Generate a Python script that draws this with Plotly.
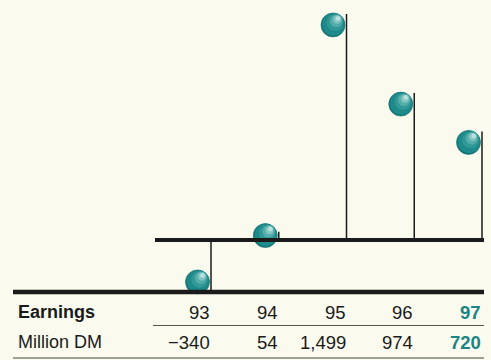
import plotly.graph_objects as go

years = ["93", "94", "95", "96", "97"]
earnings = [-340, 54, 1499, 974, 720]
value_labels = ["\u2212340", "54", "1,499", "974", "720"]
highlight_index = 4

W, H = 491, 360
# axis scaling (px per unit)
X0_PX, X_STEP_PX = 211, 67.75
Y0_PX, Y_UNIT_PX = 240, 0.1508
xr = [-X0_PX / X_STEP_PX, (W - X0_PX) / X_STEP_PX]
ymax = Y0_PX / Y_UNIT_PX
yr = [ymax - H / Y_UNIT_PX, ymax]
px_x = 1 / X_STEP_PX
px_y = 1 / Y_UNIT_PX

TEAL = "#1b8584"
INK = "#1a1a1a"
FONT = "Liberation Sans, Arial, Helvetica, sans-serif"

fig = go.Figure()

xs = list(range(len(years)))

# stems
sx, sy = [], []
for i, v in zip(xs, earnings):
    sx += [i, i, None]
    sy += [0, v, None]
fig.add_trace(go.Scatter(x=sx, y=sy, mode="lines",
                         line=dict(color=INK, width=1.5),
                         hoverinfo="skip", showlegend=False))

# sphere centres
R = 11 * px_y
cx = [i - 13.5 * px_x for i in xs]
cy = []
for v in earnings:
    if v >= 0:
        cy.append(max(v - R, R * 0.4))
    else:
        cy.append(v + 0.85 * R)

# sphere layers (base + highlight rings)
layers = [
    (24, 0.0, 0.0, "#167373", "#167373"),
    (22, 0.6, -0.6, "#1d8b8b", "#1d8b8b"),
    (17.5, 2.0, -2.4, "#2f9998", "#1f7f7f"),
    (13, 3.2, -4.0, "#53adab", "#2e8e8d"),
    (9, 4.2, -5.4, "#80c5c2", "#4aa3a1"),
    (5, 5.0, -6.5, "#bde2df", "#8ccac7"),
]
for size, dx, dy, col, lc in layers:
    fig.add_trace(go.Scatter(
        x=[c + dx * px_x for c in cx],
        y=[c - dy * px_y for c in cy],
        mode="markers",
        marker=dict(size=size, color=col, line=dict(width=0.6, color=lc)),
        hoverinfo="skip", showlegend=False))

shapes = []
# zero baseline
shapes.append(dict(type="line", xref="x", yref="y",
                   x0=(155 - X0_PX) / X_STEP_PX, x1=(484 - X0_PX) / X_STEP_PX,
                   y0=0, y1=0, line=dict(color=INK, width=4)))
# table rules
shapes.append(dict(type="line", xref="paper", yref="paper",
                   x0=13 / W, x1=484 / W, y0=1 - 292 / H, y1=1 - 292 / H,
                   line=dict(color=INK, width=4.5)))
shapes.append(dict(type="line", xref="paper", yref="paper",
                   x0=153 / W, x1=484 / W, y0=1 - 325.5 / H, y1=1 - 325.5 / H,
                   line=dict(color="#555555", width=1)))
shapes.append(dict(type="line", xref="paper", yref="paper",
                   x0=13 / W, x1=484 / W, y0=1 - 358 / H, y1=1 - 358 / H,
                   line=dict(color="#444444", width=1)))

annotations = []
annotations.append(dict(x=16 / W, y=1 - 312 / H, xref="paper", yref="paper",
                        text="<b>Earnings</b>", showarrow=False,
                        xanchor="left", yanchor="middle",
                        font=dict(family=FONT, size=18, color=INK)))
annotations.append(dict(x=16 / W, y=1 - 342 / H, xref="paper", yref="paper",
                        text="Million DM", showarrow=False,
                        xanchor="left", yanchor="middle",
                        font=dict(family=FONT, size=18, color=INK)))
for i, (yr_lbl, val_lbl) in enumerate(zip(years, value_labels)):
    hl = i == highlight_index
    col = TEAL if hl else INK
    t1 = f"<b>{yr_lbl}</b>" if hl else yr_lbl
    t2 = f"<b>{val_lbl}</b>" if hl else val_lbl
    annotations.append(dict(x=i, y=1 - 312 / H, xref="x", yref="paper",
                            text=t1, showarrow=False, xanchor="right",
                            yanchor="middle", xshift=1,
                            font=dict(family=FONT, size=18.5, color=col)))
    annotations.append(dict(x=i, y=1 - 342 / H, xref="x", yref="paper",
                            text=t2, showarrow=False, xanchor="right",
                            yanchor="middle", xshift=1,
                            font=dict(family=FONT, size=18.5, color=col)))

fig.update_layout(
    width=W, height=H,
    margin=dict(l=0, r=0, t=0, b=0),
    paper_bgcolor="#fafaee",
    plot_bgcolor="rgba(0,0,0,0)",
    xaxis=dict(range=xr, visible=False, fixedrange=True),
    yaxis=dict(range=yr, visible=False, fixedrange=True),
    shapes=shapes,
    annotations=annotations,
    showlegend=False,
)

fig.write_html("out.html")
